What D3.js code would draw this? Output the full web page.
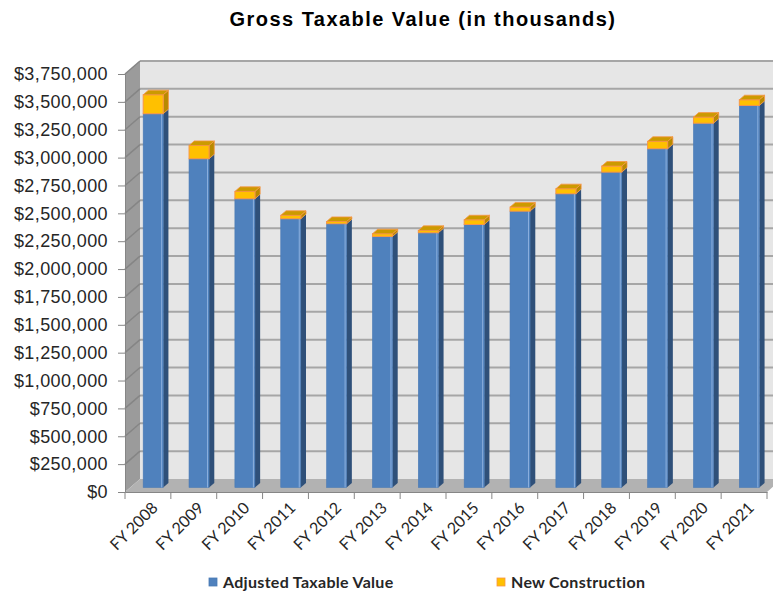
<!DOCTYPE html>
<html>
<meta charset="utf-8">
<script src="https://d3js.org/d3.v7.min.js"></script>
<style>
  body { margin: 0; background: #fff; }
</style>
<body>
<div id="my_dataviz"></div>
<script>
    // data (thousands of dollars)
    const years = ["FY 2008", "FY 2009", "FY 2010", "FY 2011", "FY 2012", "FY 2013", "FY 2014",
                   "FY 2015", "FY 2016", "FY 2017", "FY 2018", "FY 2019", "FY 2020", "FY 2021"];
    const adjusted = [3353000, 2949000, 2590000, 2411000, 2366000, 2252000, 2285000,
                      2359000, 2479000, 2635000, 2829000, 3039000, 3268000, 3427000];
    const newConstruction = [170000, 119000, 66000, 30000, 20000, 24000, 21000,
                             42000, 36000, 45000, 54000, 66000, 54000, 51000];
    const yTicks = d3.range(0, 3750001, 250000);
    const seriesNames = ["Adjusted Taxable Value", "New Construction"];

    const W = 773, H = 593;
    const pLeft = 125, pRight = 767, pTop = 74, pBottom = 492;
    // 3d depth offset of the back wall
    const DX = 15, DY = -13;
    const off = d => [DX * d, DY * d];

    const svg = d3.select("#my_dataviz")
      .append("svg")
      .attr("width", W)
      .attr("height", H);

    const x = d3.scaleBand().domain(years).range([pLeft, pRight]);
    const y = d3.scaleLinear().domain([0, 3750000]).range([pBottom, pTop]);

    // title
    svg.append("text")
      .attr("x", 423)
      .attr("y", 26)
      .attr("text-anchor", "middle")
      .style("font-family", "Liberation Sans, Arial, sans-serif")
      .style("font-weight", "bold")
      .style("font-size", "20px")
      .style("letter-spacing", "1.45px")
      .attr("fill", "#000")
      .text("Gross Taxable Value (in thousands)");

    const pts = a => a.map(p => p.join(",")).join(" ");

    // back wall
    svg.append("polygon")
      .attr("points", pts([[pLeft + DX, pTop + DY], [W + 20, pTop + DY], [W + 20, pBottom + DY], [pLeft + DX, pBottom + DY]]))
      .attr("fill", "#e6e6e6");

    // side wall
    svg.append("polygon")
      .attr("points", pts([[pLeft, pTop], [pLeft + DX, pTop + DY], [pLeft + DX, pBottom + DY], [pLeft, pBottom]]))
      .attr("fill", "#9b9b9b");

    // floor
    svg.append("polygon")
      .attr("points", pts([[pLeft, pBottom], [pRight, pBottom], [pRight + DX, pBottom + DY], [pLeft + DX, pBottom + DY]]))
      .attr("fill", "#b2b2b2");

    // gridlines on the back wall and side wall
    const grid = svg.append("g");
    grid.selectAll(".gb")
      .data(yTicks.filter(v => v > 0))
      .enter().append("line")
      .attr("x1", pLeft + DX).attr("x2", W + 20)
      .attr("y1", v => y(v) + DY).attr("y2", v => y(v) + DY)
      .attr("stroke", "#a6a6a6")
      .attr("stroke-width", 2);
    grid.selectAll(".gs")
      .data(yTicks.filter(v => v > 0))
      .enter().append("line")
      .attr("x1", pLeft).attr("x2", pLeft + DX)
      .attr("y1", v => y(v)).attr("y2", v => y(v) + DY)
      .attr("stroke", "#858585")
      .attr("stroke-width", 1.5);

    // Y axis
    const yAxis = svg.append("g")
      .attr("transform", "translate(" + pLeft + ",0)")
      .call(d3.axisLeft(y).tickValues(yTicks).tickFormat(d3.format("$,")).tickSize(7).tickPadding(10));
    yAxis.select(".domain").attr("stroke", "#868686");
    yAxis.selectAll(".tick line").attr("stroke", "#868686");
    yAxis.selectAll("text")
      .style("font-family", "Liberation Sans, Arial, sans-serif")
      .style("font-size", "18px")
      .style("letter-spacing", "0.4px")
      .attr("fill", "#262626");

    // X axis
    const xAxis = svg.append("g")
      .attr("transform", "translate(0," + pBottom + ")")
      .call(d3.axisBottom(x).tickSize(0).tickPadding(0));
    xAxis.select(".domain").attr("stroke", "#868686");
    xAxis.selectAll(".tick text")
      .attr("text-anchor", "end")
      .attr("transform", "translate(7,13)rotate(-45)")
      .attr("dy", "0.35em")
      .style("font-family", "Lato, sans-serif")
      .style("font-size", "16px")
      .attr("fill", "#262626");
    xAxis.selectAll(".edge")
      .data(years.map(d => x(d)).concat([pRight]))
      .enter().append("line")
      .attr("x1", d => d).attr("x2", d => d)
      .attr("y1", 0).attr("y2", 7)
      .attr("stroke", "#868686");

    // bars
    const bw = 20, d0 = 0.35, d1 = 0.7;
    const [fx, fy] = off(d0);
    const sx = DX * (d1 - d0), sy = DY * (d1 - d0);
    const colors = [
      { front: "#4f81bd", side: "#2f5079", top: "#7d9fd0", stroke: "#4a7ab5" },
      { front: "#ffc000", side: "#b88a00", top: "#cc9a00", stroke: "#f79646" }
    ];

    const bars = svg.append("g");
    years.forEach(function(yr, i) {
      const x0 = x(yr) + (x.bandwidth() - bw) / 2 + fx;
      const segs = [[0, adjusted[i]], [adjusted[i], adjusted[i] + newConstruction[i]]];
      segs.forEach(function(s, k) {
        const c = colors[k];
        const yb = y(s[0]) + fy, yt = y(s[1]) + fy;
        const g = bars.append("g");
        // side
        g.append("polygon")
          .attr("points", pts([[x0 + bw, yt], [x0 + bw + sx, yt + sy], [x0 + bw + sx, yb + sy], [x0 + bw, yb]]))
          .attr("fill", c.side)
          .attr("stroke", k == 1 ? c.stroke : "none")
          .attr("stroke-width", 0.8);
        // front
        g.append("rect")
          .attr("x", x0).attr("y", yt)
          .attr("width", bw).attr("height", yb - yt)
          .attr("fill", c.front)
          .attr("stroke", c.stroke)
          .attr("stroke-width", k == 1 ? 1 : 0.6);
        if (k == 0) {
          g.append("line")
            .attr("x1", x0 + bw - 1.5).attr("x2", x0 + bw - 1.5)
            .attr("y1", yt).attr("y2", yb)
            .attr("stroke", "#8db0de").attr("stroke-width", 1);
        }
        // top
        g.append("polygon")
          .attr("points", pts([[x0, yt], [x0 + sx, yt + sy], [x0 + bw + sx, yt + sy], [x0 + bw, yt]]))
          .attr("fill", c.top)
          .attr("stroke", k == 1 ? c.stroke : "none")
          .attr("stroke-width", 0.8);
      });
    });

    // legend
    const legX = [209, 497];
    const legend = svg.selectAll(".legend")
      .data(seriesNames)
      .enter().append("g")
      .attr("transform", (d, i) => "translate(" + legX[i] + ",578)");
    legend.append("rect")
      .attr("width", 8).attr("height", 8)
      .attr("fill", (d, i) => colors[i].front)
      .attr("stroke", (d, i) => i == 1 ? "#f79646" : "#4a7ab5")
      .attr("stroke-width", 0.8);
    legend.append("text")
      .attr("x", 14)
      .attr("y", 4)
      .attr("dy", "0.35em")
      .style("font-family", "Lato, sans-serif")
      .style("font-weight", "bold")
      .style("font-size", "16px")
      .style("letter-spacing", "0.3px")
      .attr("fill", "#262626")
      .text(d => d);
</script>
</body>
</html>
